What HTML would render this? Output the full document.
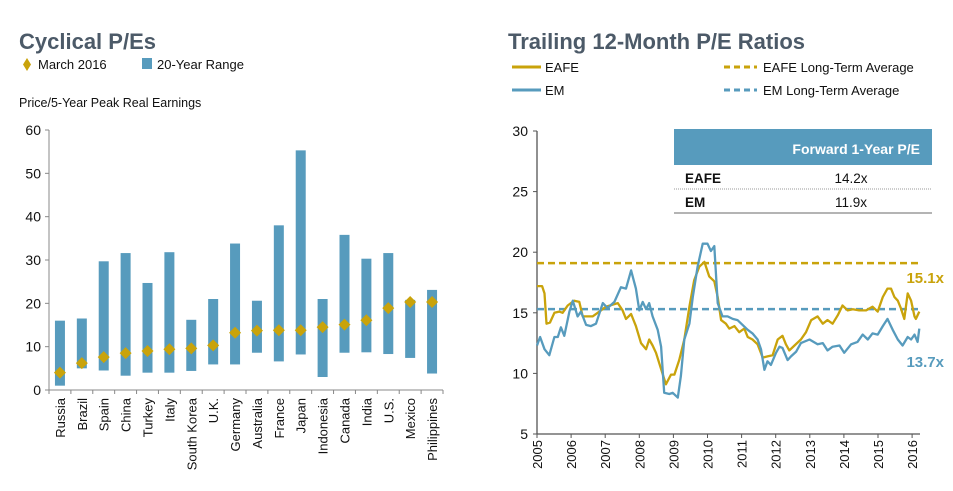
<!DOCTYPE html>
<html><head><meta charset="utf-8"><style>
body{margin:0;background:#fff;width:953px;height:491px;overflow:hidden;font-family:"Liberation Sans",Arial,sans-serif}
svg{display:block}
text{font-family:"Liberation Sans",Arial,sans-serif}
</style></head><body>
<svg id="c" width="953" height="491">
<text x="19" y="49" font-size="22" font-weight="bold" fill="#4c5a68">Cyclical P/Es</text>
<text x="508" y="49" font-size="22" font-weight="bold" fill="#4c5a68">Trailing 12-Month P/E Ratios</text>
<g>
<polygon points="27,58 31,64.5 27,71 23,64.5" fill="#c9a30b"/>
<text x="38" y="69" font-size="13" fill="#111">March 2016</text>
<rect x="142" y="58" width="10" height="11" fill="#579bbd"/>
<text x="157" y="69" font-size="13" fill="#111">20-Year Range</text>
</g>
<text x="19" y="107" font-size="12.5" fill="#111">Price/5-Year Peak Real Earnings</text>
<g>
<line x1="512" y1="67" x2="541" y2="67" stroke="#c9a30b" stroke-width="3"/>
<text x="545" y="72" font-size="13" fill="#111">EAFE</text>
<line x1="512" y1="90" x2="541" y2="90" stroke="#579bbd" stroke-width="3"/>
<text x="545" y="95" font-size="13" fill="#111">EM</text>
<line x1="724" y1="67" x2="757" y2="67" stroke="#c9a30b" stroke-width="3" stroke-dasharray="6,4"/>
<text x="763" y="72" font-size="13" fill="#111">EAFE Long-Term Average</text>
<line x1="724" y1="90" x2="757" y2="90" stroke="#579bbd" stroke-width="3" stroke-dasharray="6,4"/>
<text x="763" y="95" font-size="13" fill="#111">EM Long-Term Average</text>
</g>
<g id="left"></g>
<g id="right"></g>
<g>
<rect x="674" y="129" width="258" height="36" fill="#579bbd"/>
<text x="920" y="154" font-size="14" font-weight="bold" fill="#fff" text-anchor="end">Forward 1-Year P/E</text>
<rect x="674" y="165" width="258" height="48" fill="#fff"/>
<text x="685" y="183" font-size="13.5" font-weight="bold" fill="#111">EAFE</text>
<text x="851" y="183" font-size="13.5" fill="#111" text-anchor="middle">14.2x</text>
<line x1="674" y1="189" x2="932" y2="189" stroke="#999" stroke-dasharray="1,1"/>
<text x="685" y="207" font-size="13.5" font-weight="bold" fill="#111">EM</text>
<text x="851" y="207" font-size="13.5" fill="#111" text-anchor="middle">11.9x</text>
<line x1="674" y1="213" x2="932" y2="213" stroke="#888" stroke-width="1.2"/>
</g>
</svg>
<script>
// ---------- Left chart data ----------
const countries=["Russia","Brazil","Spain","China","Turkey","Italy","South Korea","U.K.","Germany","Australia","France","Japan","Indonesia","Canada","India","U.S.","Mexico","Philippines"];
const rangeLow=[1,5,4.5,3.3,4,4,4.4,5.9,5.9,8.6,6.6,8.2,3,8.6,8.7,8.3,7.4,3.8];
const rangeHigh=[16,16.5,29.7,31.6,24.7,31.8,16.2,21,33.8,20.6,38,55.3,21,35.8,30.3,31.6,20.8,23.1];
const march2016=[4,6.2,7.6,8.5,9,9.4,9.6,10.3,13.2,13.7,13.8,13.8,14.5,15.1,16.1,18.9,20.3,20.3];
const leftTicks=[0,10,20,30,40,50,60];
// ---------- Right chart data ----------
const eafeYears=[2005.00,2005.15,2005.22,2005.28,2005.38,2005.51,2005.65,2005.75,2005.90,2006.09,2006.24,2006.34,2006.63,2006.83,2007.02,2007.37,2007.51,2007.61,2007.76,2007.90,2008.05,2008.20,2008.29,2008.39,2008.49,2008.59,2008.78,2008.93,2009.03,2009.17,2009.32,2009.47,2009.61,2009.76,2009.91,2010.05,2010.20,2010.30,2010.40,2010.54,2010.64,2010.79,2010.93,2011.08,2011.18,2011.32,2011.47,2011.62,2011.76,2011.91,2012.06,2012.20,2012.30,2012.40,2012.55,2012.74,2012.89,2013.04,2013.23,2013.38,2013.52,2013.67,2013.82,2013.96,2014.11,2014.26,2014.45,2014.65,2014.84,2014.99,2015.14,2015.28,2015.38,2015.48,2015.58,2015.67,2015.77,2015.87,2015.97,2016.07,2016.11,2016.21];
const eafeValues=[17.2,17.2,16.6,14.1,14.2,15.0,15.1,15.0,15.6,16.0,15.9,14.7,14.7,15.1,15.5,15.8,15.2,14.5,14.9,13.9,12.5,12.0,12.8,12.3,11.7,10.8,9.1,9.9,9.9,11.1,12.8,15.5,17.7,18.8,19.2,18.0,17.6,16.3,14.4,14.1,13.7,13.9,13.4,13.7,13.0,12.8,12.4,11.3,11.4,11.5,12.8,13.1,12.4,11.9,12.3,12.8,13.4,14.4,14.7,14.1,14.4,14.1,14.8,15.6,15.2,15.3,15.2,15.2,15.5,15.1,16.3,17.0,17.0,16.3,16.0,15.4,14.5,16.6,16.0,14.7,14.5,15.1];
const emYears=[2005.00,2005.09,2005.22,2005.36,2005.51,2005.61,2005.70,2005.80,2005.95,2006.05,2006.19,2006.29,2006.44,2006.58,2006.73,2006.93,2007.07,2007.27,2007.46,2007.61,2007.76,2007.90,2008.00,2008.10,2008.20,2008.29,2008.39,2008.54,2008.64,2008.73,2008.88,2008.98,2009.13,2009.22,2009.32,2009.47,2009.57,2009.71,2009.86,2010.00,2010.10,2010.20,2010.30,2010.44,2010.59,2010.74,2010.88,2011.03,2011.18,2011.32,2011.47,2011.57,2011.67,2011.76,2011.86,2012.01,2012.11,2012.20,2012.35,2012.45,2012.60,2012.74,2012.99,2013.23,2013.38,2013.52,2013.67,2013.87,2014.01,2014.21,2014.40,2014.55,2014.70,2014.84,2014.99,2015.14,2015.28,2015.43,2015.58,2015.72,2015.87,2015.97,2016.07,2016.16,2016.21];
const emValues=[12.3,13.0,12.0,11.5,13.0,13.0,13.8,13.1,15.1,16.0,14.7,15.1,14.0,13.9,14.1,15.8,15.4,15.9,17.1,17.0,18.5,17.0,15.2,15.9,15.3,15.8,14.7,13.6,12.2,8.4,8.3,8.4,8.0,9.8,12.8,14.1,16.3,18.8,20.7,20.7,20.1,20.5,15.8,14.7,14.7,14.5,14.4,14.0,13.6,13.3,12.8,12.0,10.3,11.0,10.7,11.7,12.2,12.1,11.1,11.4,11.8,12.5,12.8,12.4,12.5,11.9,12.2,12.3,11.7,12.4,12.6,13.2,12.8,13.3,13.2,13.9,14.5,13.6,12.8,12.3,13.0,12.8,13.2,12.6,13.7];
const eafeAverage=[19.1];
const emAverage=[15.3];
const rightTicks=[5,10,15,20,25,30];
const yearTicks=[2005,2006,2007,2008,2009,2010,2011,2012,2013,2014,2015,2016];

const NS="http://www.w3.org/2000/svg";
function mk(parent,tag,attrs){const e=document.createElementNS(NS,tag);for(const k in attrs)e.setAttribute(k,attrs[k]);parent.appendChild(e);return e;}

const L=document.getElementById('left');
const lx0=49,lx1=443,ly0=390,ly1=130;
const ly=v=>ly0-(v-0)/60*(ly0-ly1);
const step=(lx1-lx0)/countries.length;
const lx=i=>lx0+step*(i+0.5);
let a=mk(L,'line',{x1:lx0,y1:ly1,x2:lx0,y2:ly0,stroke:'#888','stroke-width':1});


a=mk(L,'line',{x1:lx0,y1:ly0,x2:lx1,y2:ly0,stroke:'#888','stroke-width':1});


leftTicks.forEach(t=>{
  mk(L,'line',{x1:lx0-4,y1:ly(t),x2:lx0,y2:ly(t),stroke:'#888'});
  const tx=mk(L,'text',{x:lx0-8,y:ly(t)+5,'font-size':14,'text-anchor':'end',fill:'#111'});
  tx.textContent=t;
  
  
});
for(let i=0;i<=countries.length;i++){mk(L,'line',{x1:lx0+step*i,y1:ly0,x2:lx0+step*i,y2:ly0+4,stroke:'#888'});}
countries.forEach((c,i)=>{
  const r=mk(L,'rect',{x:lx(i)-5,y:ly(rangeHigh[i]),width:10,height:ly(rangeLow[i])-ly(rangeHigh[i]),fill:'#579bbd'});
  
  
});
countries.forEach((c,i)=>{
  const x=lx(i),y=ly(march2016[i]);
  const d=mk(L,'polygon',{points:`${x},${y-6} ${x+6},${y} ${x},${y+6} ${x-6},${y}`,fill:'#c9a30b'});
  
  
  const t=mk(L,'text',{x:0,y:0,'font-size':13,'text-anchor':'end',fill:'#111',transform:`translate(${x+5},${ly0+8}) rotate(-90)`});
  t.textContent=c;
  
  
});

const R=document.getElementById('right');
const rx0=537,rxEnd=920,ry0=434,ry1=131;
const rx=y=>rx0+(y-2005)*34.1;
const ry=v=>ry0-(v-5)/25*(ry0-ry1);
a=mk(R,'line',{x1:rx0,y1:ry1,x2:rx0,y2:ry0,stroke:'#555','stroke-width':1.3});


a=mk(R,'line',{x1:rx0,y1:ry0,x2:rxEnd,y2:ry0,stroke:'#555','stroke-width':1.3});


rightTicks.forEach(t=>{
  mk(R,'line',{x1:rx0-4,y1:ry(t),x2:rx0,y2:ry(t),stroke:'#555'});
  const tx=mk(R,'text',{x:rx0-9,y:ry(t)+5,'font-size':14,'text-anchor':'end',fill:'#111'});
  tx.textContent=t;
  
  
});
yearTicks.forEach(yr=>{
  const x=rx(yr);
  mk(R,'line',{x1:x,y1:ry0,x2:x,y2:ry0+4,stroke:'#555'});
  const t=mk(R,'text',{x:0,y:0,'font-size':13,'text-anchor':'end',fill:'#111',transform:`translate(${x+5},${ry0+6}) rotate(-90)`});
  t.textContent=yr;
  
  
});
let l=mk(R,'line',{x1:rx0,y1:ry(eafeAverage[0]),x2:rxEnd,y2:ry(eafeAverage[0]),stroke:'#c9a30b','stroke-width':2.5,'stroke-dasharray':'7,4'});


l=mk(R,'line',{x1:rx0,y1:ry(emAverage[0]),x2:rxEnd,y2:ry(emAverage[0]),stroke:'#579bbd','stroke-width':2.5,'stroke-dasharray':'7,4'});


function pathOf(xs,vs){return xs.map((x,i)=>(i?'L':'M')+rx(x).toFixed(1)+','+ry(vs[i]).toFixed(1)).join(' ');}
let p=mk(R,'path',{d:pathOf(eafeYears,eafeValues),fill:'none',stroke:'#c9a30b','stroke-width':2.3,'stroke-linejoin':'round'});


p=mk(R,'path',{d:pathOf(emYears,emValues),fill:'none',stroke:'#579bbd','stroke-width':2.3,'stroke-linejoin':'round'});


let t=mk(R,'text',{x:944,y:283,'font-size':15,'font-weight':'bold','text-anchor':'end',fill:'#c9a30b'});
t.textContent=eafeValues[eafeValues.length-1].toFixed(1)+'x';


t=mk(R,'text',{x:944,y:367,'font-size':15,'font-weight':'bold','text-anchor':'end',fill:'#579bbd'});
t.textContent=emValues[emValues.length-1].toFixed(1)+'x';


</script>
</body></html>
